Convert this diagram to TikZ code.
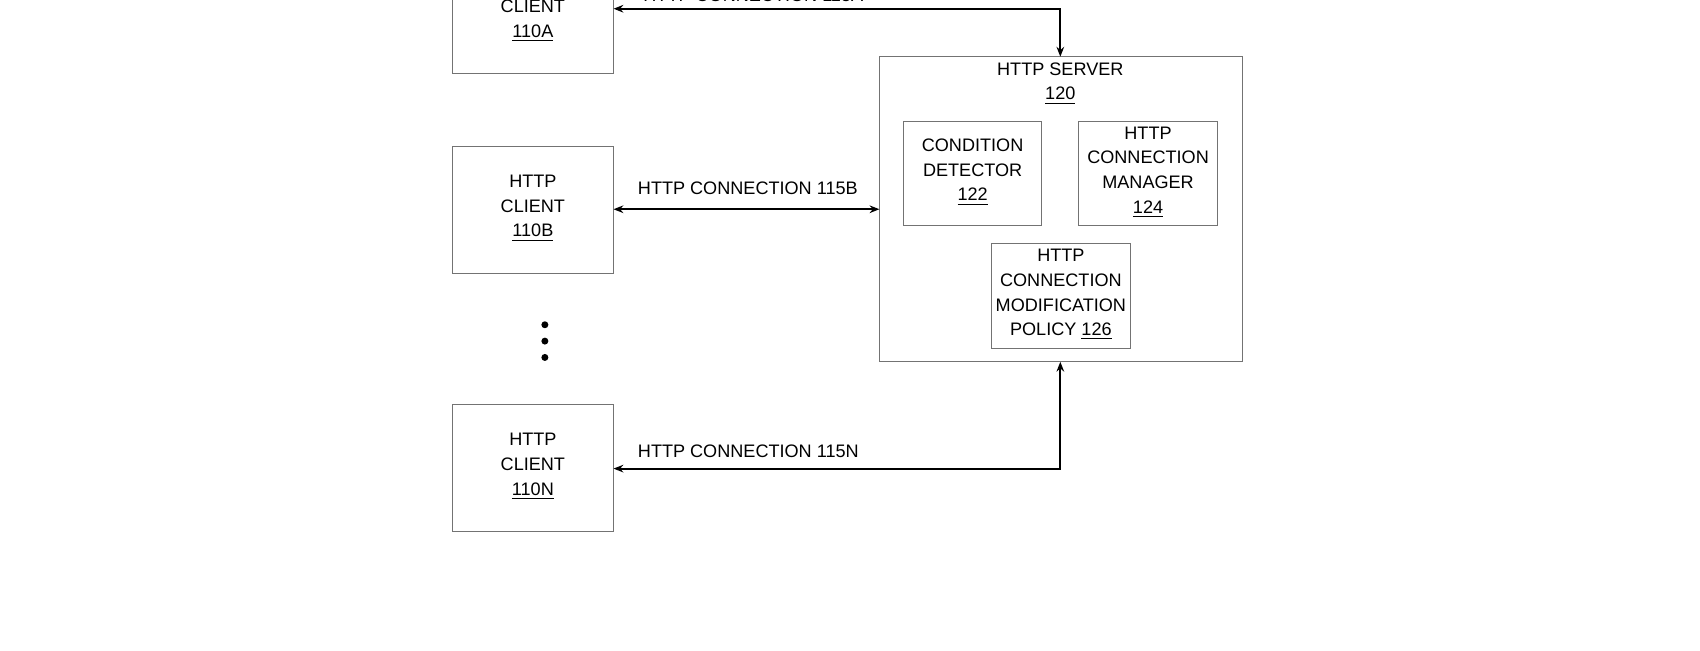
\documentclass[tikz,border=0pt]{standalone}
\usepackage{fontspec}
\setmainfont{Liberation Sans}
\usetikzlibrary{arrows.meta}
\begin{document}
\begin{tikzpicture}[x=0.5pt,y=-0.5pt,
  box/.style={draw=black!55,line width=0.35pt,inner sep=0pt},
  lbl/.style={font=\fontsize{8.3}{11.3}\selectfont,align=center,inner sep=0pt},
  conn/.style={line width=0.9pt,{Stealth[length=4.5pt,width=3.5pt]}-{Stealth[length=4.5pt,width=3.5pt]}}]
\useasboundingbox (0,0) rectangle (1560,596.5);
\begin{scope}
\clip (0,0) rectangle (1560,596.5);
% clients
\draw[box] (415,-50) rectangle (563,67);
\node[lbl] (ca) at (489,8) {HTTP\\CLIENT\\\underline{110A}};
\node[lbl,anchor=south] at (489,-3) {};
\draw[box] (415,134) rectangle (563,251);
\node[lbl] (cb) at (489,191) {HTTP\\CLIENT\\\underline{110B}};
\draw[box] (415,371) rectangle (563,488);
\node[lbl] (cn) at (489,428) {HTTP\\CLIENT\\\underline{110N}};
\coordinate (aR) at (563,8);
\coordinate (bR) at (563,192);
\coordinate (nR) at (563,430);
\foreach \y in {298,313,328} \fill (500,\y) circle (3.2);
% server
\draw[box] (807,52) rectangle (1140,332);
\coordinate (sT) at (973,52);
\coordinate (sL) at (807,192);
\coordinate (sB) at (973,332);
\node[lbl] (srv) at (973,76.5) {HTTP SERVER\\\underline{120}};
\draw[box] (829,111) rectangle (956,207);
\node[lbl] (cd) at (892.5,158) {CONDITION\\DETECTOR\\\underline{122}};
\draw[box] (990,111) rectangle (1117,207);
\node[lbl] (cm) at (1053.5,158) {HTTP\\CONNECTION\\MANAGER\\\underline{124}};
\draw[box] (910,223) rectangle (1037,320);
\node[lbl] (mp) at (973.5,270.5) {HTTP\\CONNECTION\\MODIFICATION\\POLICY \underline{126}};
% connections
\draw[conn] (aR) -- (973,8) -- (sT);
\node[lbl,anchor=west] (la) at (590,-4) {HTTP CONNECTION 115A};
\draw[conn] (bR) -- (sL);
\node[lbl,anchor=west] (lb) at (585,173) {HTTP CONNECTION 115B};
\draw[conn] (nR) -- (973,430) -- (sB);
\node[lbl,anchor=west] (ln) at (585,414) {HTTP CONNECTION 115N};
\end{scope}
\end{tikzpicture}
\end{document}
